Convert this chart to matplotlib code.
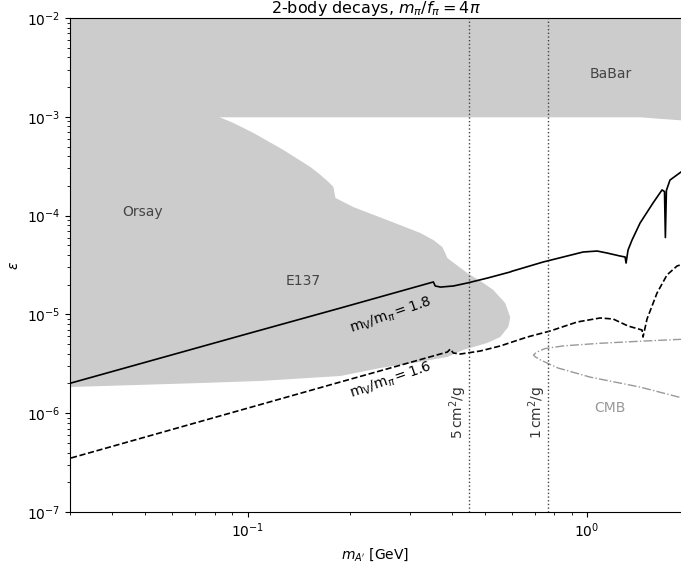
import numpy as np
import matplotlib
matplotlib.use('Agg')
import matplotlib.pyplot as plt

# BaBar band (lower edge), epsilon up to 1e-2
babar_mass = [0.03, 1.0, 1.43, 1.6, 1.9]
babar_eps = [1.0e-3, 1.0e-3, 1.0e-3, 9.7e-4, 9.3e-4]

# Orsay + E137 region: outline going down the right edge, back along the bottom
fixed_mass = [0.03, 0.0822, 0.0909, 0.1041, 0.1276, 0.1532, 0.164, 0.1731, 0.179,
              0.1815, 0.2049, 0.2581, 0.3227, 0.3525, 0.3746, 0.383, 0.3875, 0.4437,
              0.4944, 0.5291, 0.5739, 0.5936, 0.5900, 0.5856, 0.5547, 0.508, 0.4318,
              0.3875, 0.3078, 0.2461, 0.1877, 0.1092, 0.0727, 0.03]
fixed_eps = [1.0e-3, 1.0e-3, 8.65e-4, 6.86e-4, 4.61e-4, 3.10e-4, 2.58e-4, 2.19e-4, 1.95e-4,
             1.51e-4, 1.22e-4, 9.0e-5, 6.67e-5, 5.66e-5, 4.81e-5, 4.1e-5, 3.72e-5, 2.62e-5,
             2.08e-5, 1.77e-5, 1.30e-5, 9.4e-6, 8.3e-6, 7.45e-6, 5.9e-6, 5.14e-6, 4.37e-6,
             3.71e-6, 3.22e-6, 2.87e-6, 2.38e-6, 2.12e-6, 2.02e-6, 1.84e-6]

# m_V/m_pi = 1.8 (solid)
mass_18 = [0.0302, 0.1, 0.1877, 0.3525, 0.357, 0.370, 0.404, 0.444, 0.508, 0.594, 0.600,
           0.742, 0.973, 1.070, 1.145, 1.250, 1.294, 1.302, 1.320, 1.356, 1.432, 1.563,
           1.662, 1.690, 1.700, 1.712, 1.754, 1.90]
eps_18 = [2.02e-6, 6.37e-6, 1.16e-5, 2.13e-5, 1.94e-5, 1.89e-5, 1.94e-5, 2.08e-5, 2.33e-5,
          2.69e-5, 2.73e-5, 3.39e-5, 4.28e-5, 4.38e-5, 4.18e-5, 3.90e-5, 3.81e-5, 3.31e-5,
          4.49e-5, 5.66e-5, 8.41e-5, 1.34e-4, 1.82e-4, 1.75e-4, 6.0e-5, 1.80e-4, 2.29e-4, 2.8e-4]

# m_V/m_pi = 1.6 (dashed)
mass_16 = [0.0302, 0.1877, 0.3875, 0.3955, 0.4035, 0.423, 0.444, 0.4844, 0.5547, 0.666,
           0.778, 0.935, 1.092, 1.193, 1.320, 1.451, 1.461, 1.501, 1.607, 1.719, 1.840, 1.90]
eps_16 = [3.52e-7, 2.07e-6, 4.16e-6, 4.46e-6, 4.07e-6, 3.97e-6, 4.07e-6, 4.26e-6, 4.79e-6,
          5.90e-6, 6.79e-6, 8.38e-6, 9.20e-6, 8.98e-6, 7.63e-6, 6.95e-6, 5.90e-6, 8.98e-6,
          1.65e-5, 2.51e-5, 3.09e-5, 3.2e-5]

# CMB bound (dash-dot)
cmb_mass = [1.90, 1.43, 1.09, 0.85, 0.75, 0.71, 0.695, 0.705, 0.73, 0.82, 1.02, 1.43, 1.90]
cmb_eps = [5.6e-6, 5.35e-6, 5.1e-6, 4.8e-6, 4.5e-6, 4.15e-6, 3.88e-6, 3.7e-6, 3.45e-6,
           2.87e-6, 2.32e-6, 1.84e-6, 1.43e-6]

# self-interaction cross-section lines
sigma_mass = [0.45, 0.768]
sigma_labels = [r'5$\,$cm$^2$/g', r'1$\,$cm$^2$/g']

fig = plt.figure(figsize=(6.81, 5.69), dpi=100)
ax = fig.add_axes([70/681, 57/569, 611/681, 494/569])
ax.set_xscale('log')
ax.set_yscale('log')

grey = '#cccccc'
ax.fill_between(babar_mass, babar_eps, 1e-2, color=grey, lw=0)
ax.fill(fixed_mass, fixed_eps, color=grey, lw=0)

ax.plot(mass_18, eps_18, color='k', lw=1.2)
ax.plot(mass_16, eps_16, color='k', lw=1.2, ls='--')
ax.plot(cmb_mass, cmb_eps, color='#999999', lw=1.0, ls='-.')

for m, lab in zip(sigma_mass, sigma_labels):
    ax.axvline(m, color='#444444', lw=1.0, ls=':')
    ax.text(m, 1.03e-6, lab, rotation=90, ha='right', va='center', fontsize=10, color='#333333')

ax.text(1.17, 2.71e-3, 'BaBar', ha='center', va='center', fontsize=10, color='#444444')
ax.text(0.0491, 1.09e-4, 'Orsay', ha='center', va='center', fontsize=10, color='#444444')
ax.text(0.1462, 2.18e-5, 'E137', ha='center', va='center', fontsize=10, color='#444444')
ax.text(1.17, 1.13e-6, 'CMB', ha='center', va='center', fontsize=10, color='#999999')

ax.text(0.2634, 9.86e-6, r'm$_{\rm V}$/m$_\pi=1.8$', rotation=19, ha='center', va='center', fontsize=10)
ax.text(0.2634, 2.17e-6, r'm$_{\rm V}$/m$_\pi=1.6$', rotation=19, ha='center', va='center', fontsize=10)

ax.set_xlim(0.03, 1.89)
ax.set_ylim(1e-7, 1e-2)
ax.spines['right'].set_visible(False)
ax.set_xlabel(r"$m_{A'}$ [GeV]")
ax.set_ylabel(r'$\epsilon$')
ax.set_title(r'2-body decays, $m_\pi/f_\pi = 4\pi$', fontsize=11.5, pad=2)

fig.savefig('out.png', dpi=100)
